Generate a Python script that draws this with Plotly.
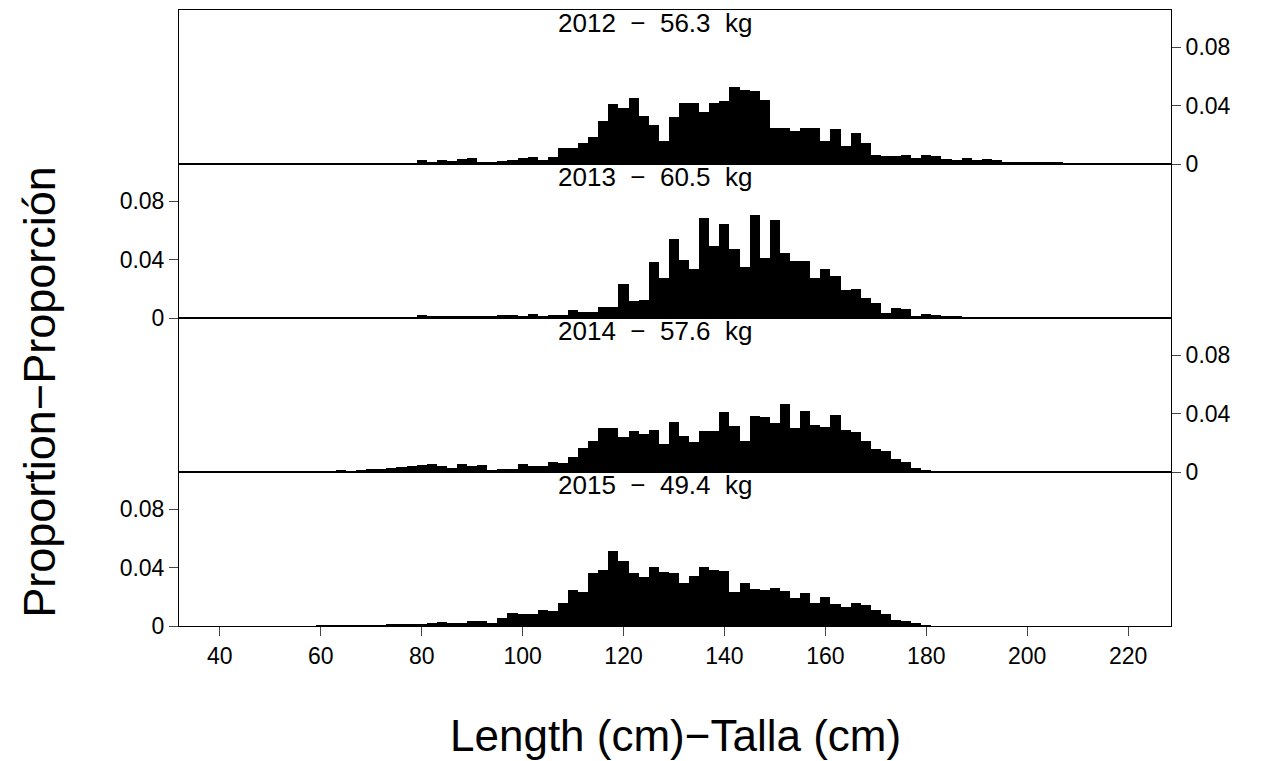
import plotly.graph_objects as go
from plotly.subplots import make_subplots

# length bins (centre, cm) and proportions per year
bins_2012 = list(range(60, 212, 2))
prop_2012 = [0.0003] * 10 + [
    0.0028, 0.0009, 0.0030, 0.0021, 0.0034, 0.0041, 0.0016, 0.0016, 0.0021, 0.0030,
    0.0041, 0.0046, 0.0030, 0.0046, 0.0113, 0.0113, 0.0143, 0.0184, 0.0297, 0.0414,
    0.0386, 0.0453, 0.0331, 0.0269, 0.0159, 0.0322, 0.0418, 0.0418, 0.0359, 0.0418,
    0.0432, 0.0526, 0.0506, 0.0497, 0.0437, 0.0246, 0.0246, 0.0225, 0.0246, 0.0246,
    0.0156, 0.0239, 0.0120, 0.0214, 0.0145, 0.0062, 0.0053, 0.0057, 0.0062, 0.0041,
    0.0062, 0.0057, 0.0034, 0.0025, 0.0041, 0.0028, 0.0032, 0.0030,
    0.0015, 0.0012, 0.0010, 0.0012, 0.0010, 0.0008, 0.0005, 0.0004]

bins_2013 = list(range(60, 190, 2))
prop_2013 = [0.0003] * 10 + [
    0.0023, 0.0016, 0.0016, 0.0016, 0.0009, 0.0009, 0.0016, 0.0016, 0.0018, 0.0023,
    0.0011, 0.0030, 0.0011, 0.0018, 0.0018, 0.0055, 0.0039, 0.0039, 0.0074, 0.0074,
    0.0232, 0.0117, 0.0124, 0.0386, 0.0274, 0.0538, 0.0400, 0.0338, 0.0683, 0.0490,
    0.0641, 0.0474, 0.0349, 0.0703, 0.0411, 0.0671, 0.0446, 0.0389, 0.0389, 0.0274,
    0.0336, 0.0290, 0.0189, 0.0198, 0.0136, 0.0106, 0.0037, 0.0069, 0.0062, 0.0014,
    0.0030, 0.0018, 0.0009, 0.0014, 0.0005]

bins_2014 = list(range(60, 182, 2))
prop_2014 = [
    0.0003, 0.0005, 0.0009, 0.0002, 0.0011, 0.0023, 0.0023, 0.0030, 0.0037, 0.0041,
    0.0046, 0.0057, 0.0039, 0.0030, 0.0057, 0.0044, 0.0051, 0.0014, 0.0018, 0.0023,
    0.0055, 0.0039, 0.0044, 0.0071, 0.0064, 0.0106, 0.0163, 0.0214, 0.0301, 0.0301,
    0.0237, 0.0278, 0.0260, 0.0290, 0.0191, 0.0343, 0.0246, 0.0207, 0.0283, 0.0278,
    0.0409, 0.0315, 0.0214, 0.0384, 0.0375, 0.0333, 0.0467, 0.0301, 0.0416, 0.0324,
    0.0306, 0.0391, 0.0290, 0.0271, 0.0209, 0.0161, 0.0145, 0.0092, 0.0071, 0.0025,
    0.0007]

bins_2015 = list(range(60, 182, 2))
prop_2015 = [
    0.0003, 0.0003, 0.0004, 0.0004, 0.0005, 0.0005, 0.0006, 0.0007, 0.0008, 0.0010,
    0.0010, 0.0023, 0.0030, 0.0020, 0.0020, 0.0034, 0.0034, 0.0018, 0.0053, 0.0092,
    0.0080, 0.0080, 0.0110, 0.0103, 0.0159, 0.0246, 0.0230, 0.0363, 0.0386, 0.0517,
    0.0448, 0.0363, 0.0338, 0.0407, 0.0368, 0.0361, 0.0292, 0.0340, 0.0402, 0.0384,
    0.0375, 0.0234, 0.0294, 0.0253, 0.0246, 0.0260, 0.0237, 0.0189, 0.0223, 0.0161,
    0.0200, 0.0149, 0.0131, 0.0159, 0.0143, 0.0110, 0.0080, 0.0044, 0.0034, 0.0018,
    0.0005]

titles = ["2012  \u2212  56.3  kg", "2013  \u2212  60.5  kg",
          "2014  \u2212  57.6  kg", "2015  \u2212  49.4  kg"]
series = [(bins_2012, prop_2012), (bins_2013, prop_2013),
          (bins_2014, prop_2014), (bins_2015, prop_2015)]
y_ticks = [0, 0.04, 0.08]
y_ticktext = ["0", "0.04", "0.08"]
x_ticks = list(range(40, 221, 20))

fig = make_subplots(rows=4, cols=1, shared_xaxes=True, vertical_spacing=0)

font = "Liberation Sans, Arial, sans-serif"
for i, (b, p) in enumerate(series):
    row = i + 1
    fig.add_trace(go.Bar(x=b, y=p, width=2, marker=dict(color="black", line_width=0),
                         showlegend=False), row=row, col=1)
    fig.update_yaxes(range=[0, 0.1055], tickvals=y_ticks, ticktext=y_ticktext,
                     side="right" if i % 2 == 0 else "left",
                     showline=True, mirror=True, linecolor="black", linewidth=1,
                     ticks="outside", ticklen=9, tickwidth=1, showgrid=False,
                     zeroline=False, tickfont=dict(size=23, color="black"),
                     row=row, col=1)
    fig.update_xaxes(range=[31.9, 228.5], tickvals=x_ticks,
                     showline=True, mirror=True, linecolor="black", linewidth=1,
                     ticks="outside" if row == 4 else "", ticklen=9, tickwidth=1,
                     showgrid=False, zeroline=False, showticklabels=(row == 4),
                     tickfont=dict(size=23, color="black"), row=row, col=1)

# panel titles
for i, t in enumerate(titles):
    top = 1 - i * 0.25
    fig.add_annotation(text=t, xref="paper", yref="paper", x=0.48, y=top + 0.006,
                       yanchor="top", showarrow=False,
                       font=dict(size=26, color="black", family=font))

fig.add_annotation(text="Proportion\u2212Proporci\u00f3n", xref="paper", yref="paper",
                   x=-0.168, y=0.38, textangle=-90, showarrow=False,
                   font=dict(size=45, color="black", family=font))
fig.add_annotation(text="Length (cm)\u2212Talla (cm)", xref="paper", yref="paper",
                   x=0.5, y=-0.177, yanchor="middle", showarrow=False,
                   font=dict(size=44, color="black", family=font))

fig.update_layout(width=1266, height=761, bargap=0,
                  margin=dict(l=171, r=103, t=2, b=143),
                  plot_bgcolor="white", paper_bgcolor="white",
                  font=dict(family=font, color="black"))

fig.write_html("out.html")
